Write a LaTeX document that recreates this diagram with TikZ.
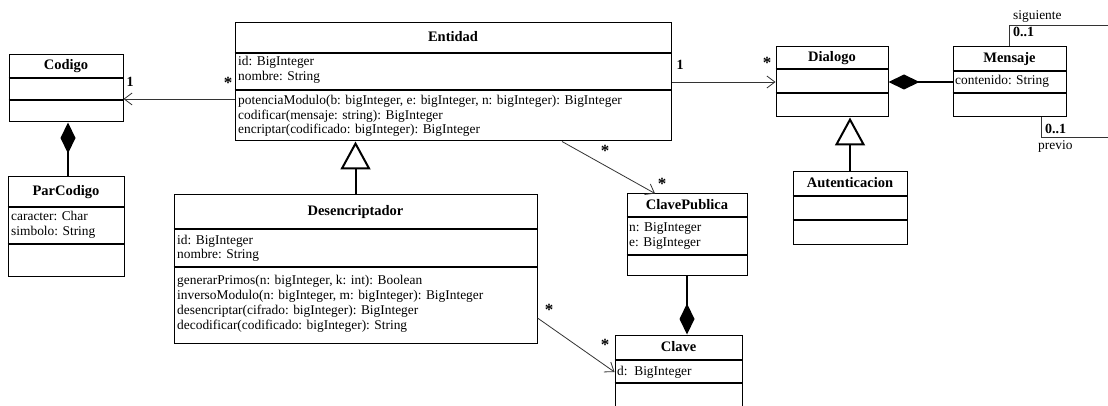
\documentclass[tikz,border=0pt]{standalone}
\usepackage{fontspec}
\setmainfont{Liberation Serif}
\usetikzlibrary{arrows.meta,calc}
\begin{document}
\begin{tikzpicture}[x=1pt,y=-1pt,
  box/.style={draw, line width=1pt, inner sep=0pt, fill=white},
  sep/.style={line width=1.8pt},
  cname/.style={font=\fontsize{14.5}{16}\selectfont\bfseries, inner sep=0pt, text height=10pt, text depth=3pt},
  attr/.style={font=\fontsize{13.4}{15}\selectfont, anchor=west, inner sep=0pt, text height=9pt, text depth=3pt},
  mult/.style={font=\fontsize{14}{15}\selectfont\bfseries, inner sep=0pt, text height=9pt, text depth=3pt},
  star/.style={font=\fontsize{17}{15}\selectfont\bfseries, inner sep=0pt, text height=9pt, text depth=3pt},
  rolelbl/.style={font=\fontsize{13.4}{15}\selectfont, inner sep=0pt, text height=9pt, text depth=3pt},
  assoc/.style={draw=black!80, line width=0.8pt, -{Straight Barb[length=8pt,width=12pt,line width=0.8pt]}},
  plainline/.style={draw=black!80, line width=0.8pt},
  comp/.style={line width=2pt, {Diamond[length=31pt,width=15pt]}-},
  gen/.style={line width=2pt, -{Triangle[open,length=28pt,width=30pt,fill=white]}}
]
\useasboundingbox (0,0) rectangle (1108,406);
\clip (0,0) rectangle (1108,406);
\fill[white] (0,0) rectangle (1108,406);

% ---------- Codigo ----------
\node[box, minimum width=114pt, minimum height=67pt] (codigo) at (66,88.5) {};
\draw[sep] (codigo.west |- 0,78) -- (codigo.east |- 0,78);
\draw[sep] (codigo.west |- 0,100) -- (codigo.east |- 0,100);
\node[cname] (codigo-n) at (66,66.5) {Codigo};

% ---------- ParCodigo ----------
\node[box, minimum width=116pt, minimum height=99pt] (parcodigo) at (66,226.5) {};
\draw[sep] (parcodigo.west |- 0,207) -- (parcodigo.east |- 0,207);
\draw[sep] (parcodigo.west |- 0,244) -- (parcodigo.east |- 0,244);
\node[cname] (parcodigo-n) at (66,192) {ParCodigo};
\node[attr] (parcodigo-a1) at (11,218) {caracter: Char};
\node[attr] (parcodigo-a2) at (11,233) {simbolo: String};

% ---------- Entidad ----------
\node[box, minimum width=436pt, minimum height=118pt] (entidad) at (453,82) {};
\draw[sep] (entidad.west |- 0,53) -- (entidad.east |- 0,53);
\draw[sep] (entidad.west |- 0,90) -- (entidad.east |- 0,90);
\node[cname] (entidad-n) at (453,38) {Entidad};
\node[attr] (entidad-a1) at (238,63) {id: BigInteger};
\node[attr] (entidad-a2) at (238,78) {nombre: String};
\node[attr] (entidad-m1) at (238,102) {potenciaModulo(b: bigInteger, e: bigInteger, n: bigInteger): BigInteger};
\node[attr] (entidad-m2) at (238,117) {codificar(mensaje: string): BigInteger};
\node[attr] (entidad-m3) at (238,131) {encriptar(codificado: bigInteger): BigInteger};

% ---------- Desencriptador ----------
\node[box, minimum width=363pt, minimum height=148pt] (desc) at (355.5,269) {};
\draw[sep] (desc.west |- 0,229) -- (desc.east |- 0,229);
\draw[sep] (desc.west |- 0,267) -- (desc.east |- 0,267);
\node[cname] (desc-n) at (355.5,212) {Desencriptador};
\node[attr] (desc-a1) at (177,241) {id: BigInteger};
\node[attr] (desc-a2) at (177,255) {nombre: String};
\node[attr] (desc-m1) at (177,281) {generarPrimos(n: bigInteger, k: int): Boolean};
\node[attr] (desc-m2) at (177,296) {inversoModulo(n: bigInteger, m: bigInteger): BigInteger};
\node[attr] (desc-m3) at (177,311) {desencriptar(cifrado: bigInteger): BigInteger};
\node[attr] (desc-m4) at (177,326) {decodificar(codificado: bigInteger): String};

% ---------- ClavePublica ----------
\node[box, minimum width=120pt, minimum height=81pt] (clavepub) at (687,234.5) {};
\draw[sep] (clavepub.west |- 0,217) -- (clavepub.east |- 0,217);
\draw[sep] (clavepub.west |- 0,255) -- (clavepub.east |- 0,255);
\node[cname] (clavepub-n) at (687,206) {ClavePublica};
\node[attr] (clavepub-a1) at (629,229) {n: BigInteger};
\node[attr] (clavepub-a2) at (629,244) {e: BigInteger};

% ---------- Clave ----------
\node[box, minimum width=127pt, minimum height=85pt] (clave) at (678.5,377.5) {};
\draw[sep] (clave.west |- 0,360) -- (clave.east |- 0,360);
\draw[sep] (clave.west |- 0,383) -- (clave.east |- 0,383);
\node[cname] (clave-n) at (678.5,348) {Clave};
\node[attr] (clave-a1) at (617,372) {d:\ \ BigInteger};

% ---------- Dialogo ----------
\node[box, minimum width=112pt, minimum height=70pt] (dialogo) at (832,82) {};
\draw[sep] (dialogo.west |- 0,69) -- (dialogo.east |- 0,69);
\draw[sep] (dialogo.west |- 0,93) -- (dialogo.east |- 0,93);
\node[cname] (dialogo-n) at (832,58) {Dialogo};

% ---------- Mensaje ----------
\node[box, minimum width=113pt, minimum height=70pt] (mensaje) at (1009.5,82) {};
\draw[sep] (mensaje.west |- 0,71) -- (mensaje.east |- 0,71);
\draw[sep] (mensaje.west |- 0,93) -- (mensaje.east |- 0,93);
\node[cname] (mensaje-n) at (1009.5,59) {Mensaje};
\node[attr] (mensaje-a1) at (955,82) {contenido: String};

% ---------- Autenticacion ----------
\node[box, minimum width=114pt, minimum height=72pt] (aut) at (850,208) {};
\draw[sep] (aut.west |- 0,196) -- (aut.east |- 0,196);
\draw[sep] (aut.west |- 0,220) -- (aut.east |- 0,220);
\node[cname] (aut-n) at (850,184) {Autenticacion};

% ---------- Connectors ----------
% Entidad -> Codigo
\draw[assoc] ([yshift=-17pt]entidad.west) -- ([yshift=-17pt]entidad.west -| codigo.east);
\node[mult] (m-cod1) at (130,84) {1};
\node[star] (m-cod2) at (228,86) {*};

% Entidad -> Dialogo
\draw[assoc] (entidad.east) -- (dialogo.west);
\node[mult] (m-dia1) at (680,67) {1};
\node[star] (m-dia2) at (767,66) {*};

% Entidad -> ClavePublica
\draw[assoc] ([xshift=109pt]entidad.south) -- ([xshift=-32pt]clavepub.north);
\node[star] (m-cp1) at (605,154) {*};
\node[star] (m-cp2) at (662,187) {*};

% Desencriptador -> Clave
\draw[assoc] ([yshift=-49pt]desc.east) -- ([yshift=5.5pt]clave.west);
\node[star] (m-cl1) at (549,312) {*};
\node[star] (m-cl2) at (605,347) {*};

% Compositions
\draw[comp] ([xshift=2pt]codigo.south) -- ([xshift=2pt]codigo.south |- parcodigo.north);
\draw[comp] (clavepub.south |- clave.north) -- (clavepub.south);
\draw[comp] (dialogo.east) -- (mensaje.west);

% Generalizations
\draw[gen] (desc.north) -- (desc.north |- entidad.south);
\draw[gen] (aut.north) -- (aut.north |- dialogo.south);

% Mensaje self association
\coordinate (selfA) at (1115,25);
\coordinate (selfB) at (1115,137);
\draw[plainline] ([xshift=-0.5pt]mensaje.north) |- (selfA);
\draw[plainline] ([xshift=31.5pt]mensaje.south) |- (selfB);
\node[rolelbl, anchor=west] (r-sig) at (1013,17) {siguiente};
\node[mult, anchor=west] (m-sig) at (1013,34) {0..1};
\node[mult, anchor=west] (m-prev) at (1045,131) {0..1};
\node[rolelbl, anchor=west] (r-prev) at (1038,147) {previo};
\end{tikzpicture}
\end{document}
